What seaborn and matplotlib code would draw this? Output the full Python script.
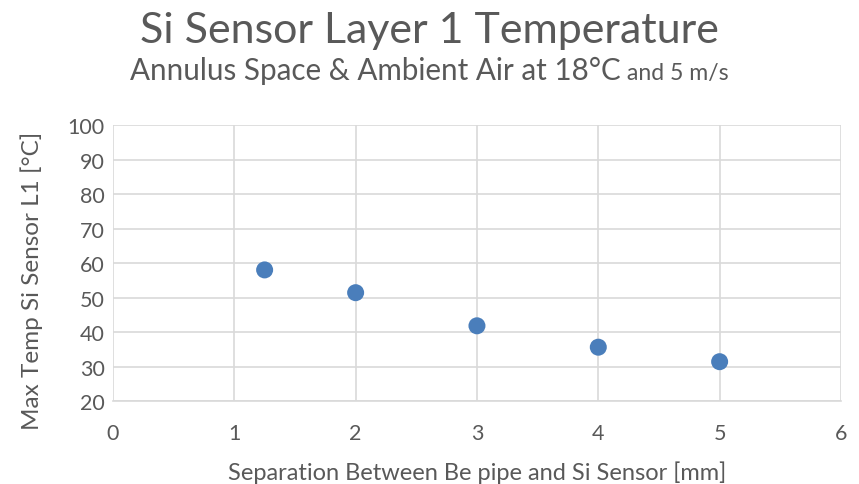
import matplotlib
matplotlib.use("Agg")
import matplotlib.pyplot as plt
import seaborn as sns
import pandas as pd

# data
separation_mm = [1.25, 2, 3, 4, 5]
max_temp_c = [58.0, 51.4, 41.8, 35.6, 31.4]

x_ticks = [0, 1, 2, 3, 4, 5, 6]
y_ticks = [20, 30, 40, 50, 60, 70, 80, 90, 100]

title = "Si Sensor Layer 1 Temperature"
subtitle_main = "Annulus Space & Ambient Air at 18°C"
subtitle_tail = " and 5 m/s"
x_label = "Separation Between Be pipe and Si Sensor [mm]"
y_label = "Max Temp Si Sensor L1 [°C]"

df = pd.DataFrame({"sep": separation_mm, "temp": max_temp_c})

sns.set_style("white")
plt.rcParams["font.family"] = ["Lato", "DejaVu Sans"]
text_color = "#595959"

fig = plt.figure(figsize=(8.59, 4.85), dpi=100)
ax = fig.add_axes([0.1315, 0.1711, 0.8475, 0.5691])

sns.scatterplot(data=df, x="sep", y="temp", ax=ax, color="#4a7ebb",
                s=150, edgecolor="none", zorder=3)

ax.set_xlim(0, 6)
ax.set_ylim(20, 100)
ax.set_xticks(x_ticks)
ax.set_yticks(y_ticks)
ax.grid(True, color="#d9d9d9", linewidth=1.2)
for side in ["top", "right", "left"]:
    ax.spines[side].set_visible(False)
ax.spines["bottom"].set_color("#d9d9d9")
ax.spines["bottom"].set_linewidth(1.2)
ax.tick_params(axis="both", length=0, labelsize=15.5, labelcolor=text_color)
ax.tick_params(axis="x", pad=16)
ax.tick_params(axis="y", pad=6)
ax.set_xlabel(x_label, fontsize=17, color=text_color, labelpad=12)
ax.set_ylabel(y_label, fontsize=17.5, color=text_color, va="center")
ax.yaxis.set_label_coords(-0.111, 0.44)

fig.text(0.5, 0.937, title, ha="center", va="center", fontsize=31, color=text_color)

# subtitle with smaller tail, centered as a whole
t1 = fig.text(0.5, 0.835, subtitle_main, ha="left", va="baseline", fontsize=21.3, color=text_color)
t2 = fig.text(0.5, 0.835, subtitle_tail, ha="left", va="baseline", fontsize=16.6, color=text_color)
fig.canvas.draw()
r = fig.canvas.get_renderer()
w1 = t1.get_window_extent(r).width / fig.bbox.width
w2 = t2.get_window_extent(r).width / fig.bbox.width
start = 0.5 - (w1 + w2) / 2
t1.set_x(start)
t2.set_x(start + w1)

fig.savefig("out.png", dpi=100)
